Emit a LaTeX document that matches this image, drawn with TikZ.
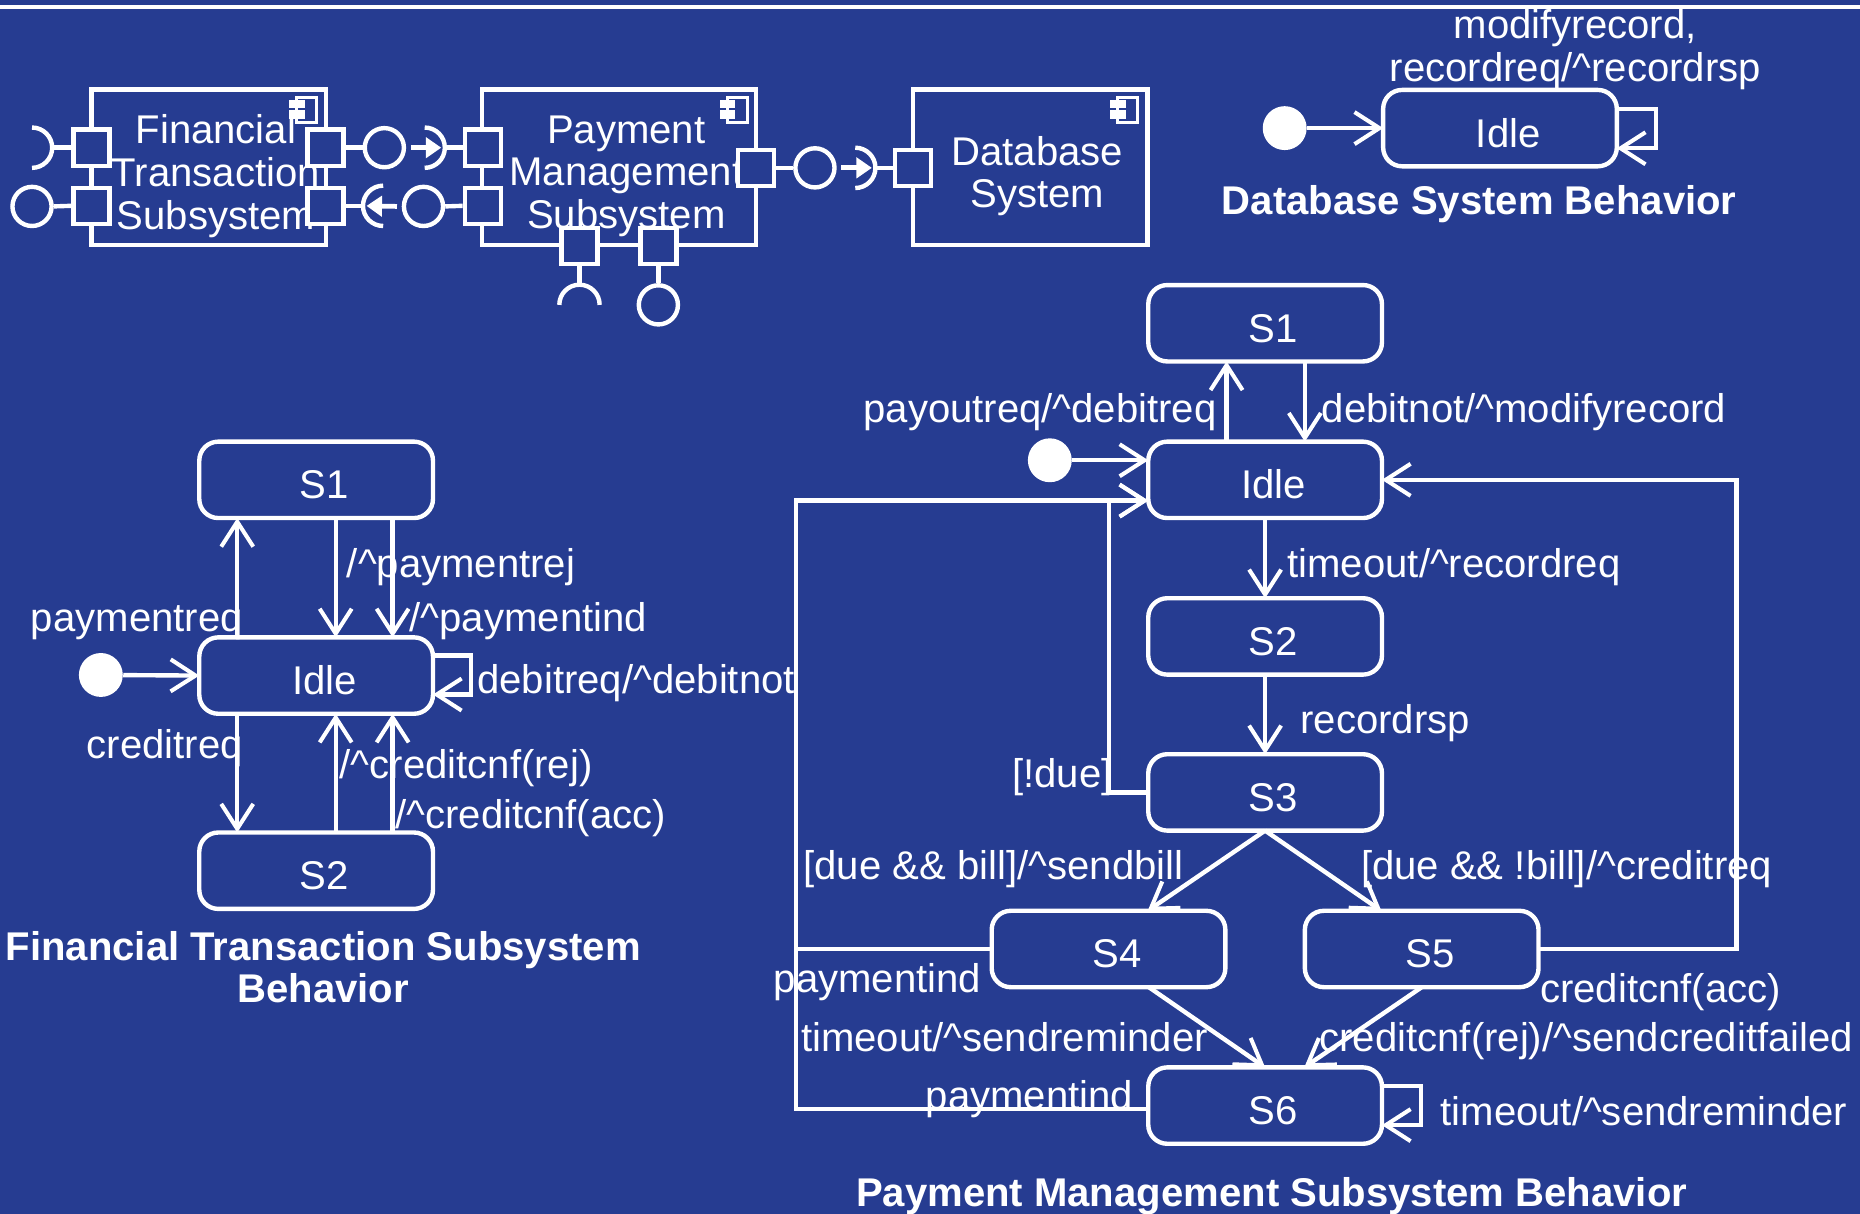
\documentclass[tikz,border=0pt]{standalone}
\usepackage{fontspec}
\setmainfont{Liberation Sans}
\usetikzlibrary{arrows,arrows.meta}
\usetikzlibrary{calc,positioning}
\definecolor{slideblue}{RGB}{38,60,145}
\tikzset{
    every node/.style={font=\fontsize{16.9}{18}\selectfont, text=white},
    wire/.style={draw=white, line width=1.85pt},
    trans/.style={wire, -{Straight Barb[length=10.5pt,width=13.5pt,line width=1.7pt]}},
    assm/.style={draw=white, line width=2pt, shorten >=1.5pt, -{Triangle[length=6.5pt,width=8.5pt]}},
    comp/.style={wire, rectangle, inner sep=0pt},
    port/.style={wire, fill=slideblue, rectangle, inner sep=0pt, minimum size=15.2pt},
    ball/.style={wire, circle, inner sep=0pt, minimum size=16.5pt},
    start/.style={fill=white, circle, inner sep=0pt, minimum size=18.5pt},
    stat/.style={wire, rectangle, rounded corners=8pt, inner sep=0pt, outer sep=0pt,
        minimum width=98.5pt, minimum height=32.2pt,
        text height=16pt, text depth=0pt,
        execute at begin node={\kern7pt}},
    lbl/.style={anchor=base west, inner sep=0pt},
    lblr/.style={anchor=base east, inner sep=0pt},
    ttl/.style={align=center, inner sep=0pt, font=\bfseries\fontsize{16.9}{17.5}\selectfont}
}
\begin{document}
\begin{tikzpicture}[x=0.5pt, y=-0.5pt]
    \useasboundingbox (0,0) rectangle (1568,1023.4);
    \fill[slideblue] (0,0) rectangle (1568,1023.4);
    \draw[white, line width=1.7pt] (0,6) -- (1568,6);

    % components
    \node[comp, minimum width=99pt, minimum height=65.5pt] (fin) at (176,141) {};
    \node[comp, minimum width=115.5pt, minimum height=65.5pt] (pay) at (522,141) {};
    \node[comp, minimum width=99pt, minimum height=65.5pt] (dbs) at (868.5,141) {};
    \node[align=center, inner sep=0pt] at (182,148.5) {Financial\\Transaction\\Subsystem};
    \node[align=center, inner sep=0pt] at (528,148.5) {Payment\\Management\\Subsystem};
    \node[align=center, inner sep=0pt] at (874.5,148.5) {Database\\System};
    \foreach \ix in {0,363,692}{
    \draw[white, line width=1.2pt] (250+\ix,82) rectangle (267+\ix,103);
    \fill[white] (244+\ix,84) rectangle (257+\ix,91);
    \fill[white] (244+\ix,93) rectangle (257+\ix,100);}

    \node[port] (f1) at (77,124.5) {};
    \node[port] (f2) at (77,173.5) {};
    \node[port] (f3) at (274.5,124.5) {};
    \node[port] (f4) at (274.5,173.5) {};
    \node[port] (p1) at (407,124.5) {};
    \node[port] (p2) at (407,173.5) {};
    \node[port] (p3) at (637.5,141.5) {};
    \node[port] (p4) at (488.5,207.5) {};
    \node[port] (p5) at (555,207.5) {};
    \node[port] (d1) at (769.5,141.5) {};

    \node[ball] (b1) at (27,174) {};
    \node[ball] (b2) at (324,124.5) {};
    \node[ball] (b3) at (357,174) {};
    \node[ball] (b4) at (687,141.5) {};
    \node[ball] (b5) at (555,257) {};

    \coordinate (s1) at (44,124.5);
    \coordinate (s2) at (375,124.5);
    \coordinate (s3) at (306,173.5);
    \coordinate (s4) at (738,141.5);
    \coordinate (s5) at (488.5,240);
    \foreach \s in {s1,s2,s4}{
    \draw[wire] ([shift={(-8.5pt,8.5pt)}]\s) arc[start angle=90, end angle=-90, radius=8.5pt];}
    \draw[wire] ([shift={(8.5pt,8.5pt)}]s3) arc[start angle=90, end angle=270, radius=8.5pt];
    \draw[wire] ([shift={(-8.5pt,-8.5pt)}]s5) arc[start angle=180, end angle=0, radius=8.5pt];

    \draw[wire] (s1) -- (f1.west);
    \draw[wire] (b1.east) -- (f2.west);
    \draw[wire] (f3.east) -- (b2.west);
    \draw[wire] (f4.east) -- (s3);
    \draw[wire] (s2) -- (p1.west);
    \draw[wire] (b3.east) -- (p2.west);
    \draw[wire] (p3.east) -- (b4.west);
    \draw[wire] (s4) -- (d1.west);
    \draw[wire] (p4.south) -- (s5);
    \draw[wire] (p5.south) -- (b5.north);
    \draw[assm] ([xshift=2pt]b2.east) -- (s2);
    \draw[assm] ([xshift=-2pt]b3.west) -- (s3);
    \draw[assm] ([xshift=2pt]b4.east) -- (s4);

    % database behavior
    \node[start] (di) at (1083,108) {};
    \node[stat] (didle) at (1264.5,108) {Idle};
    \draw[trans] (di) -- (didle.west);
    \draw[trans] ([yshift=8pt]didle.east) -- ++(33,0) -- ++(0,33) -- ([yshift=-8.5pt]didle.east);
    \node[align=center, inner sep=0pt] at (1328,42) {modifyrecord,\\recordreq/\textasciicircum recordrsp};
    \node[ttl] at (1247,172) {Database System Behavior};

    % financial behavior
    \node[lbl] at (292,487) {/\textasciicircum paymentrej};
    \node[lbl] at (345,532) {/\textasciicircum paymentind};
    \node[lblr] at (205,532) {paymentreq};
    \node[lbl] at (402,585) {debitreq/\textasciicircum debitnot};
    \node[lblr] at (205,639) {creditreq};
    \node[lbl] at (286,656) {/\textasciicircum creditcnf(rej)};
    \node[lbl] at (333,698) {/\textasciicircum creditcnf(acc)};
    \node[ttl] at (272.5,815.5) {Financial Transaction Subsystem\\Behavior};

    \node[stat] (fs1) at (266.5,404.5) {S1};
    \node[stat] (fidle) at (266.5,569.5) {Idle};
    \node[stat] (fs2) at (266.5,734) {S2};
    \node[start] (fi) at (85,569) {};
    \draw[trans] (fi) -- (fidle.west);
    \draw[trans] ([xshift=-33.25pt]fidle.north) -- ([xshift=-33.25pt]fs1.south);
    \draw[trans] ([xshift=8.25pt]fs1.south) -- ([xshift=8.25pt]fidle.north);
    \draw[trans] ([xshift=32.25pt]fs1.south) -- ([xshift=32.25pt]fidle.north);
    \draw[trans] ([xshift=-33.25pt]fidle.south) -- ([xshift=-33.25pt]fs2.north);
    \draw[trans] ([xshift=8.25pt]fs2.north) -- ([xshift=8.25pt]fidle.south);
    \draw[trans] ([xshift=32.25pt]fs2.north) -- ([xshift=32.25pt]fidle.south);
    \draw[trans] ([yshift=8.5pt]fidle.east) -- ++(32,0) -- ++(0,33) -- ([yshift=-8pt]fidle.east);

    % payment behavior
    \node[lblr] at (1026,356) {payoutreq/\textasciicircum debitreq};
    \node[lbl] at (1114,356) {debitnot/\textasciicircum modifyrecord};
    \node[lbl] at (1085,487) {timeout/\textasciicircum recordreq};
    \node[lbl] at (1096,618) {recordrsp};
    \node[lbl] at (853,664) {[!due]};
    \node[lbl] at (677,741) {[due \&\& bill]/\textasciicircum sendbill};
    \node[lbl] at (1147,741) {[due \&\& !bill]/\textasciicircum creditreq};
    \node[lbl] at (652,837) {paymentind};
    \node[lbl] at (675,886) {timeout/\textasciicircum sendreminder};
    \node[lbl] at (780,935) {paymentind};
    \node[lbl] at (1298,845) {creditcnf(acc)};
    \node[lbl] at (1112,886) {creditcnf(rej)/\textasciicircum sendcreditfailed};
    \node[lbl] at (1214,949) {timeout/\textasciicircum sendreminder};
    \node[ttl] at (1072,1008) {Payment Management Subsystem Behavior};

    \node[stat] (ms1) at (1066.5,272.5) {S1};
    \node[stat] (midle) at (1066.5,404.5) {Idle};
    \node[stat] (ms2) at (1066.5,536.5) {S2};
    \node[stat] (ms3) at (1066.5,668) {S3};
    \node[stat] (ms4) at (934.5,800) {S4};
    \node[stat] (ms5) at (1198.5,800) {S5};
    \node[stat] (ms6) at (1066.5,932) {S6};
    \node[start] (mi) at (885,388) {};
    \draw[trans] (mi) -- ([yshift=8.25pt]midle.west);
    \draw[trans] ([xshift=-16.25pt]midle.north) -- ([xshift=-16.25pt]ms1.south);
    \draw[trans] ([xshift=16.75pt]ms1.south) -- ([xshift=16.75pt]midle.north);
    \draw[trans] (midle.south) -- (ms2.north);
    \draw[trans] (ms2.south) -- (ms3.north);
    \draw[trans] (ms3.south) -- ([xshift=16.5pt]ms4.north);
    \draw[trans] (ms3.south) -- ([xshift=-17pt]ms5.north);
    \draw[trans] ([xshift=17pt]ms4.south) -- (ms6.north);
    \draw[trans] (ms5.south) -- ([xshift=16.5pt]ms6.north);
    \draw[trans] (ms3.west) -| (935,422) -- ([yshift=-8.75pt]midle.west);
    \draw[trans] ([yshift=-1.5pt]ms6.west) -| (671,422) -- ([yshift=-8.75pt]midle.west);
    \draw[wire] (ms4.west) -- (671,800);
    \draw[trans] (ms5.east) -| (1464,404.5) -- (midle.east);
    \draw[trans] ([yshift=8.25pt]ms6.east) -- ++(33,0) -- ++(0,33) -- ([yshift=-8.25pt]ms6.east);
\end{tikzpicture}
\end{document}
